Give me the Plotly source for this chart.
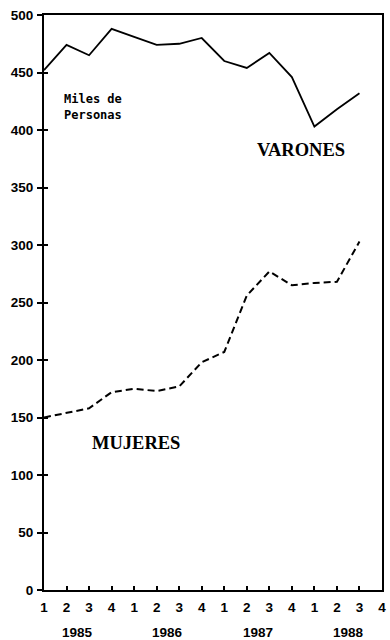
import plotly.graph_objects as go

# Quarterly series, thousands of persons, 1985 Q1 .. 1988 Q3
QUARTER_LABELS = ["1", "2", "3", "4"] * 4
YEARS = ["1985", "1986", "1987", "1988"]
VARONES = [452, 474, 465, 488, 481, 474, 475, 480, 460, 454, 467, 446, 403, 418, 432]
MUJERES = [150, 154, 158, 172, 175, 173, 177, 198, 207, 256, 277, 265, 267, 268, 303]
Y_TICKS = [0, 50, 100, 150, 200, 250, 300, 350, 400, 450, 500]

x_idx = list(range(len(VARONES)))
tick_idx = list(range(len(QUARTER_LABELS)))
# year captions sit between the 2nd and 3rd quarter of each year
year_pos = [4 * k + 1.5 for k in range(len(YEARS))]

tick_font = dict(family="Liberation Sans, Arial, sans-serif", size=13.5,
                 color="black", weight="bold")
serif_font = dict(family="Liberation Serif, Times New Roman, serif", size=18.5,
                  color="black", weight="bold")

fig = go.Figure()
fig.add_trace(go.Scatter(x=x_idx, y=VARONES, mode="lines",
                         line=dict(color="black", width=1.8), hoverinfo="skip"))
fig.add_trace(go.Scatter(x=x_idx, y=MUJERES, mode="lines",
                         line=dict(color="black", width=2, dash="7px,4px"),
                         hoverinfo="skip"))

fig.update_layout(
    width=390, height=640,
    margin=dict(l=44, r=4, t=15, b=50),
    paper_bgcolor="white", plot_bgcolor="white",
    showlegend=False,
    xaxis=dict(range=[0, 15], tickvals=tick_idx, ticktext=QUARTER_LABELS,
               ticks="inside", ticklen=4, tickwidth=1.5, tickcolor="black",
               showline=True, linecolor="black", linewidth=1.8, mirror=True,
               showgrid=False, zeroline=False, tickfont=tick_font,
               ticklabelstandoff=4, fixedrange=True),
    yaxis=dict(range=[0, 500], tickvals=Y_TICKS,
               ticks="outside", ticklen=5, tickwidth=1.5, tickcolor="black",
               showline=True, linecolor="black", linewidth=2, mirror=True,
               showgrid=False, zeroline=False, tickfont=tick_font,
               ticklabelstandoff=1, fixedrange=True),
    # inner half of the crossing y ticks
    yaxis2=dict(range=[0, 500], overlaying="y", side="left", tickvals=Y_TICKS,
                ticks="inside", ticklen=4, tickwidth=1.5, tickcolor="black",
                showticklabels=False, showline=False, showgrid=False,
                zeroline=False, fixedrange=True),
)

# dummy trace to bring the overlay axis into the layout
fig.add_trace(go.Scatter(x=[None], y=[None], yaxis="y2", hoverinfo="skip"))

for yr, xp in zip(YEARS, year_pos):
    fig.add_annotation(x=xp, y=0, xref="x", yref="paper", yshift=-42,
                       text=yr, showarrow=False, font=tick_font,
                       xanchor="center", yanchor="middle")

fig.add_annotation(x=11.4, y=383, xref="x", yref="y", text="VARONES",
                   showarrow=False, font=serif_font,
                   xanchor="center", yanchor="middle")
fig.add_annotation(x=4.1, y=128, xref="x", yref="y", text="MUJERES",
                   showarrow=False, font=serif_font,
                   xanchor="center", yanchor="middle")
fig.add_annotation(x=0.8, y=435, xref="x", yref="y",
                   text="Miles de<br>Personas", showarrow=False, align="left",
                   font=dict(family="DejaVu Sans Mono, monospace", size=12,
                             color="black", weight="bold"),
                   xanchor="left", yanchor="top")

fig.write_html("out.html", config={"displayModeBar": False})
